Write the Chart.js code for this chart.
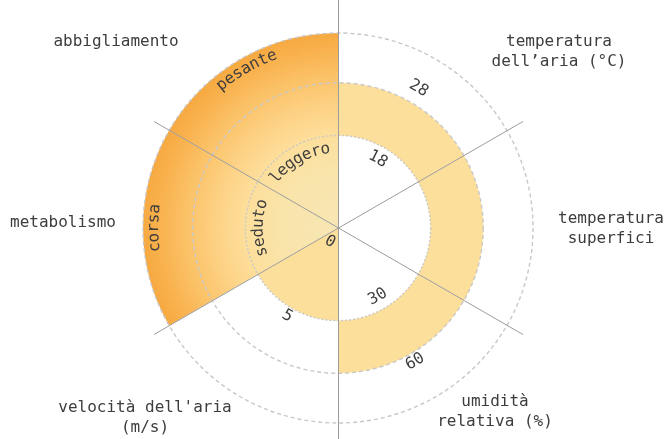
<!DOCTYPE html>
<html>
<head>
<meta charset="utf-8">
<script src="https://cdn.jsdelivr.net/npm/chart.js@4/dist/chart.umd.min.js"></script>
<style>
  html, body { margin: 0; padding: 0; background: #fff; }
  canvas { display: block; }
</style>
</head>
<body>
<canvas id="chart" width="667" height="439"></canvas>
<script>
// Thermal comfort factors, one 60° sector each, clockwise from the top.
const categories = [
  'temperatura\ndell’aria (°C)',
  'temperatura\nsuperfici',
  'umidità\nrelativa (%)',
  "velocità dell'aria\n(m/s)",
  'metabolismo',
  'abbigliamento'
];

// Radial level of each ring (the radial scale runs 0–100, centre to rim).
const ringLevels = [0, 47.5, 74.5, 100];

// Comfort range of each factor, given as ring indices.
const rangeFrom = [1, 1, 1, 0, 0, 0];
const rangeTo   = [2, 2, 2, 1, 3, 3];

// Range boundary labels and the ring each one sits on.
const lowLabels  = ['18', '', '30', '0', 'seduto', 'leggero'];
const lowAt      = [1, null, 1, 0, 1, 1];
const highLabels = ['28', '', '60', '5', 'corsa', 'pesante'];
const highAt     = [2, null, 2, 1, 3, 3];

// ---- styling -------------------------------------------------------------
const FONT = '"DejaVu Sans Mono", "Liberation Mono", monospace';
const TEXT = '#3d3d3d';
const BAND = '#FDDF9C';
const GRADIENT_SECTORS = [4, 5];
const GRADIENT_STOPS = [
  [0.00, '#F7E7B4'],
  [0.30, '#F9E4AA'],
  [0.47, '#FDDF9C'],
  [0.62, '#FDD286'],
  [0.78, '#FBC267'],
  [0.90, '#F9B351'],
  [1.00, '#F7A940']
];
// Title anchor offsets from the chart centre, in px.
const TITLE_OFFSETS = [[221, -176], [273, 1], [157, 184], [-193, 190], [-275, -5], [-222, -186]];

const outerValues = rangeTo.map(k => ringLevels[k]);
const innerValues = rangeFrom.map(k => ringLevels[k]);

function sectorFill(ctx) {
  if (ctx.type !== 'data' || !GRADIENT_SECTORS.includes(ctx.dataIndex)) return BAND;
  const s = ctx.chart.scales.r;
  if (!s || !isFinite(s.xCenter) || !isFinite(s.yCenter) || !(s.drawingArea > 0)) return BAND;
  const g = ctx.chart.ctx.createRadialGradient(s.xCenter, s.yCenter, 0, s.xCenter, s.yCenter, s.drawingArea);
  GRADIENT_STOPS.forEach(([o, c]) => g.addColorStop(o, c));
  return g;
}

// Cut the hole of each sector so it becomes a band between two rings.
const bandHoles = {
  id: 'bandHoles',
  afterDatasetsUpdate(chart) {
    const s = chart.scales.r;
    chart.getDatasetMeta(0).data.forEach((arc, i) => {
      arc.innerRadius = s.getDistanceFromCenterForValue(innerValues[i]);
    });
  }
};

function drawArcText(ctx, text, cx, cy, radius, theta) {
  const flip = theta > Math.PI / 2 + 1e-6 && theta < 1.5 * Math.PI - 1e-6;
  const chars = [...text];
  const widths = chars.map(ch => ctx.measureText(ch).width);
  const total = widths.reduce((a, b) => a + b, 0);
  const span = total / radius;
  let a = flip ? theta + span / 2 : theta - span / 2;
  chars.forEach((ch, k) => {
    const half = widths[k] / 2 / radius;
    a += flip ? -half : half;
    ctx.save();
    ctx.translate(cx + radius * Math.sin(a), cy - radius * Math.cos(a));
    ctx.rotate(flip ? a - Math.PI : a);
    ctx.fillText(ch, 0, 0);
    ctx.restore();
    a += flip ? -half : half;
  });
}

const overlay = {
  id: 'overlay',
  afterDraw(chart) {
    const s = chart.scales.r;
    const ctx = chart.ctx;
    const cx = s.xCenter, cy = s.yCenter;
    const n = categories.length;

    // sector dividers
    ctx.save();
    ctx.strokeStyle = '#9c9c9c';
    ctx.lineWidth = 1;
    ctx.translate(0.5, 0);
    for (let i = 0; i < n; i++) {
      const p = s.getPointPosition(i, i % 3 === 0 ? 260 : 213);
      ctx.beginPath();
      ctx.moveTo(cx, cy);
      ctx.lineTo(p.x, p.y);
      ctx.stroke();
    }
    ctx.restore();

    // range boundary labels, bent along their ring
    ctx.save();
    ctx.font = '16px ' + FONT;
    ctx.fillStyle = TEXT;
    ctx.textAlign = 'center';
    ctx.textBaseline = 'middle';
    const last = ringLevels.length - 1;
    for (let i = 0; i < n; i++) {
      const theta = s.getIndexAngle(i + 0.5);
      const flip = theta > Math.PI / 2 && theta < 1.5 * Math.PI - 1e-6;
      if (lowLabels[i]) {
        const r = s.getDistanceFromCenterForValue(ringLevels[lowAt[i]]);
        drawArcText(ctx, lowLabels[i], cx, cy, r === 0 ? 16 : r - 13, theta);
      }
      if (highLabels[i]) {
        const r = s.getDistanceFromCenterForValue(ringLevels[highAt[i]]);
        const rr = highAt[i] === last ? r - 11 : r + (flip ? 9 : 16);
        drawArcText(ctx, highLabels[i], cx, cy, rr, theta);
      }
    }
    ctx.restore();

    // factor titles
    ctx.save();
    ctx.font = '16px ' + FONT;
    ctx.fillStyle = TEXT;
    ctx.textAlign = 'center';
    ctx.textBaseline = 'middle';
    categories.forEach((label, i) => {
      const lines = label.split('\n');
      const lh = 19.5;
      const x = cx + TITLE_OFFSETS[i][0];
      const y0 = cy + TITLE_OFFSETS[i][1] - (lines.length - 1) * lh / 2;
      lines.forEach((ln, k) => ctx.fillText(ln, x, y0 + k * lh));
    });
    ctx.restore();
  }
};

new Chart(document.getElementById('chart'), {
  type: 'polarArea',
  data: {
    labels: categories,
    datasets: [{
      data: outerValues,
      backgroundColor: sectorFill,
      borderWidth: 0
    }]
  },
  options: {
    responsive: false,
    devicePixelRatio: 1,
    animation: false,
    layout: { padding: { left: 9, right: 0, top: 33, bottom: 16 } },
    plugins: { legend: { display: false }, tooltip: { enabled: false } },
    scales: {
      r: {
        min: 0,
        max: 100,
        afterBuildTicks: (scale) => { scale.ticks = ringLevels.map(v => ({ value: v })); },
        ticks: { display: false, z: 1 },
        grid: { circular: true, color: '#c8c8c8', lineWidth: 1.4, z: 1 },
        border: { dash: (c) => c.index === 1 ? [2, 2] : [4, 3], z: 1 },
        angleLines: { display: false },
        pointLabels: { display: false }
      }
    }
  },
  plugins: [bandHoles, overlay]
});
</script>
</body>
</html>
